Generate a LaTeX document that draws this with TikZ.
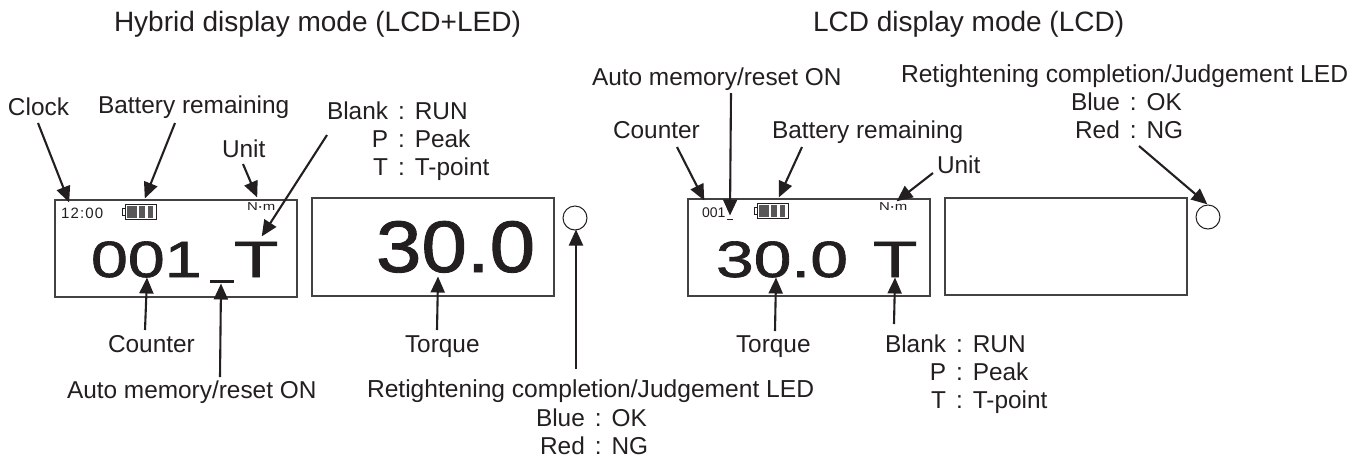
\documentclass[tikz,border=0pt]{standalone}
\usepackage{fontspec}
\usepackage{graphicx}
\setmainfont{Liberation Sans}
\newfontfamily\dispfont[FakeBold=1.2]{Liberation Sans}
\newfontfamily\tallfont[FakeBold=1.2]{Liberation Sans}
\newfontfamily\dotfont[FakeBold=2]{Liberation Sans}
\usetikzlibrary{arrows.meta}
\definecolor{ink}{HTML}{231F20}
\newcommand{\dispt}[3]{\scalebox{#1}[1]{\fontsize{#2}{#2}\selectfont #3}}
\newcommand{\legendrows}[1]{\begin{tabular}[t]{@{}r@{\hspace{10pt}:\hspace{10pt}}l@{}}#1\end{tabular}}
\tikzset{
  every node/.style={inner sep=0pt,outer sep=0pt,text=ink},
  label text/.style={anchor=base west,font=\fontsize{24.4}{28.3}\selectfont},
  long label/.style={anchor=base west,font=\fontsize{24.6}{28.3}\selectfont},
  title text/.style={anchor=base west,font=\fontsize{28}{32}\selectfont},
  screen/.style={draw=ink!85,line width=1.1pt,fill=none,anchor=north west},
  lamp/.style={draw=ink,line width=1pt,circle,minimum size=24pt},
  seg/.style={anchor=base west},
  pointer/.style={draw=ink,line width=2.1pt,-{Triangle[length=16pt,width=14pt]},shorten >=-0.5pt},
  barmark/.style={draw=ink,line width=3pt},
  pics/battery/.style={code={
    \draw[ink,line width=0.8pt] (3,0) rectangle (34,15);
    \draw[ink,line width=0.8pt] (3,4) -- (0,4) -- (0,11) -- (3,11);
    \fill[ink!75] (5,1.5) rectangle (15,13.5);
    \fill[ink!75] (17,1.5) rectangle (23,13.5);
    \fill[ink!75] (26,1.5) rectangle (31,13.5);
  }}
}
\begin{document}
\begin{tikzpicture}[x=1pt,y=-1pt]
\useasboundingbox (0,0) rectangle (1361,459);
% titles
\node[title text] (titleA) at (114,31) {Hybrid display mode (LCD+LED)};
\node[title text] (titleB) at (813,31) {LCD display mode (LCD)};
% screens
\node[screen,minimum width=242pt,minimum height=97pt] (s1) at (55,200) {};
\node[screen,minimum width=242pt,minimum height=98pt] (s2) at (312,198) {};
\node[screen,minimum width=242pt,minimum height=97pt] (s3) at (688,199) {};
\node[screen,minimum width=242pt,minimum height=97pt] (s4) at (945,198) {};
\node[lamp] (led1) at (575,218) {};
\node[lamp] (led2) at (1208,217) {};
% screen 1 content
\node[seg] (clk) at (61,218) {\fontsize{15}{15}\selectfont\addfontfeature{LetterSpace=8}12:00};
\pic at (122,204) {battery};
\node[seg] (unit1) at (247,210) {\dispt{1.3}{11.5}{N{\dotfont·}m}};
\node[seg] (cnt1) at (91,277) {\dispfont\dispt{1.3}{51}{001}};
\coordinate (bar1a) at (210,281);
\coordinate (bar1b) at (234,281);
\draw[barmark] (bar1a) -- (bar1b);
\node[seg] (t1) at (234,277) {\tallfont\dispt{1.42}{51}{T}};
% screen 2 content
\node[seg] (val2) at (376,272) {\dispfont\dispt{1.12}{73}{30.0}};
% screen 3 content
\node[seg] (cnt3) at (702,217) {\fontsize{14}{14}\selectfont 001};
\coordinate (bar3a) at (727,219);
\coordinate (bar3b) at (733,219);
\draw[draw=ink,line width=1pt] (bar3a) -- (bar3b);
\pic at (754,203) {battery};
\node[seg] (unit3) at (879,210) {\dispt{1.3}{11.5}{N{\dotfont·}m}};
\node[seg] (val3) at (716,277) {\dispfont\dispt{1.33}{51}{30.0}};
\node[seg] (t3) at (873,277) {\tallfont\dispt{1.42}{51}{T}};
% left labels
\node[label text] (lClock) at (8,115) {Clock};
\node[label text] (lBatt1) at (98,113) {Battery remaining};
\node[label text] (lUnit1) at (222,157) {Unit};
\node[label text] (lMode1) at (327,119) {\legendrows{Blank&RUN\\P&Peak\\T&T-point}};
\node[label text] (lCnt1) at (108,352) {Counter};
\node[label text] (lAuto1) at (67,398) {Auto memory/reset ON};
\node[label text] (lTq1) at (405,352) {Torque};
\node[long label] (lRet1) at (367,397) {Retightening completion/Judgement LED};
\node[label text] (lOk1) at (536,426) {\legendrows{Blue&OK\\Red&NG}};
% right labels
\node[label text] (lAuto3) at (592,85) {Auto memory/reset ON};
\node[label text] (lCnt3) at (613,138) {Counter};
\node[label text] (lBatt3) at (772,138) {Battery remaining};
\node[label text] (lUnit3) at (937,173) {Unit};
\node[long label] (lRet3) at (901,82) {Retightening completion/Judgement LED};
\node[label text] (lOk3) at (1071,110) {\legendrows{Blue&OK\\Red&NG}};
\node[label text] (lTq3) at (736,352) {Torque};
\node[label text] (lMode3) at (885,352) {\legendrows{Blank&RUN\\P&Peak\\T&T-point}};
% connector ends
\foreach \n/\ax/\ay/\bx/\by in {
  a/38/123/69/202, b/175/123/145/198, c/243/164/257/197, d/327/135/262/236,
  e/145/330/147/278, f/220/377/221/284, g/437/330/438/277, h/576/369/576/230,
  i/677/147/704/200, j/731/93/730/215, k/802/147/779/197, l/933/173/897/201,
  m/775/331/776/278, n/894/324/895/278, o/1139/146/1207/204}{
  \coordinate (\n from) at (\ax,\ay);
  \coordinate (\n to) at (\bx,\by);
  \draw[pointer] (\n from) -- (\n to);
}
\end{tikzpicture}
\end{document}
